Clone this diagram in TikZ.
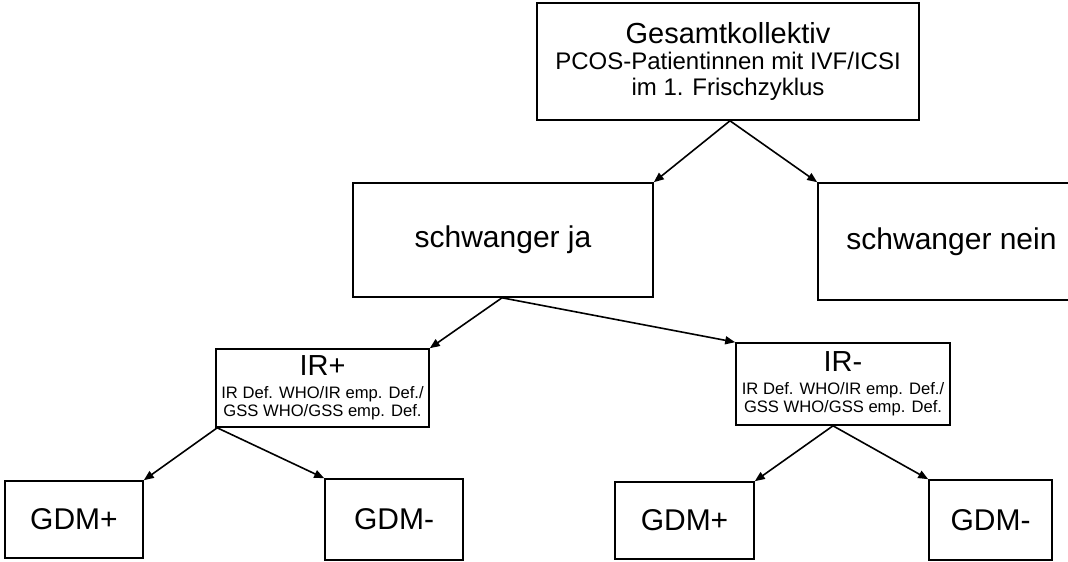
\documentclass[tikz,border=0pt]{standalone}
\usepackage{fontspec}
\setmainfont{Liberation Sans}
\usetikzlibrary{arrows.meta}
\begin{document}
\begin{tikzpicture}[x=1pt,y=-1pt,
  box/.style={draw, line width=1.6pt, rectangle, inner sep=0pt, align=center},
  big/.style={font=\fontsize{30}{32}\selectfont},
  conn/.style={line width=1.6pt, -{Triangle[length=10pt,width=8pt]}}]
\clip (0,0) rectangle (1068,562);

% level 0
\node[box, minimum width=382pt, minimum height=117pt,
      font=\fontsize{24}{26}\selectfont] (total) at (728,61.5)
  {{\fontsize{29}{30}\selectfont Gesamtkollektiv}\\
   PCOS-Patientinnen mit IVF/ICSI\\
   im 1. Frischzyklus};

% level 1
\node[box, big, minimum width=300pt, minimum height=114pt] (ja) at (503,240) {schwanger ja};
\node[box, big, minimum width=267pt, minimum height=117pt] (nein) at (951.5,241.5) {schwanger nein};

% level 2
\node[box, minimum width=213pt, minimum height=78pt,
      font=\fontsize{16.6}{18.5}\selectfont] (irp) at (322.5,388)
  {{\fontsize{29}{30}\selectfont IR+}\\[4pt]
   IR Def. WHO/IR emp. Def./\\
   GSS WHO/GSS emp. Def.};
\node[box, minimum width=214pt, minimum height=82pt,
      font=\fontsize{16.6}{18.5}\selectfont] (irm) at (843,384)
  {{\fontsize{29}{30}\selectfont IR-}\\[4pt]
   IR Def. WHO/IR emp. Def./\\
   GSS WHO/GSS emp. Def.};

% level 3
\node[box, big, minimum width=138pt, minimum height=77pt] (gpL) at (74,519.5) {GDM+};
\node[box, big, minimum width=138pt, minimum height=81pt] (gmL) at (394,519.5) {GDM-};
\node[box, big, minimum width=139pt, minimum height=77pt] (gpR) at (684.5,520.5) {GDM+};
\node[box, big, minimum width=123pt, minimum height=80pt] (gmR) at (990.5,520) {GDM-};

% connectors
\draw[conn] ([xshift=2pt]total.south) -- (ja.north east);
\draw[conn] ([xshift=2pt]total.south) -- (nein.north west);
\draw[conn] ([xshift=-1pt]ja.south) -- (irp.north east);
\draw[conn] ([xshift=-1pt]ja.south) -- (irm.north west);
\draw[conn] ([xshift=2pt]irp.south west) -- (gpL.north east);
\draw[conn] ([xshift=2pt]irp.south west) -- (gmL.north west);
\draw[conn] ([xshift=-10pt]irm.south) -- (gpR.north east);
\draw[conn] ([xshift=-10pt]irm.south) -- (gmR.north west);
\end{tikzpicture}
\end{document}
